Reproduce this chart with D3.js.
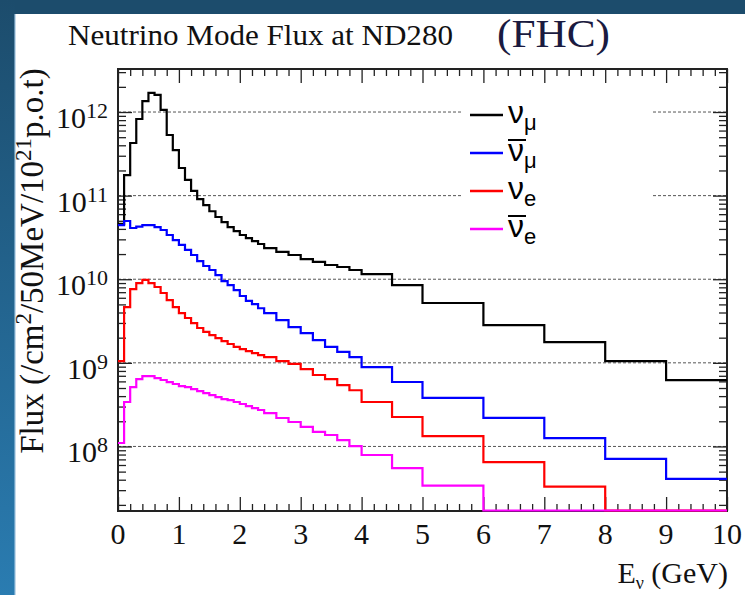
<!DOCTYPE html>
<html><head><meta charset="utf-8">
<script src="https://cdn.jsdelivr.net/npm/d3@7"></script>
<style>body{margin:0;background:#fff;} svg{display:block}</style>
</head><body>
<svg id="c" width="745" height="595"></svg>
<script>
// ---- data ----
const binEdges = [0,0.1,0.2,0.3,0.4,0.5,0.6,0.7,0.8,0.9,1.0,1.1,1.2,1.3,1.4,1.5,1.6,1.7,1.8,1.9,2.0,2.1,2.2,2.3,2.4,
  2.6,2.8,3.0,3.2,3.4,3.6,3.8,4.0,4.5,5,6,7,8,9,10];
const numu = [4.6e10,1.76e11,4.26e11,8.25e11,1.35e12,1.69e12,1.60e12,1.06e12,5.31e11,3.51e11,
  2.14e11,1.54e11,1.14e11,9.1e10,7.7e10,6.5e10,5.55e10,4.83e10,4.21e10,3.77e10,
  3.38e10,3.11e10,2.86e10,2.64e10,2.36e10,2.12e10,1.95e10,1.74e10,1.61e10,1.48e10,1.40e10,1.29e10,
  1.15e10,8.5e9,5.2e9,2.83e9,1.77e9,1.05e9,6.2e8];
const numubar = [4.45e10,4.97e10,4.10e10,4.27e10,4.45e10,4.45e10,4.21e10,3.88e10,3.38e10,2.94e10,
  2.57e10,2.24e10,1.95e10,1.65e10,1.44e10,1.29e10,1.12e10,9.5e9,8.5e9,7.4e9,
  6.3e9,5.5e9,5.05e9,4.5e9,3.94e9,3.25e9,2.68e9,2.27e9,1.87e9,1.55e9,1.35e9,1.17e9,
  8.9e8,5.9e8,3.8e8,2.2e8,1.26e8,7.1e7,4.1e7];
const nue = [1.05e9,4.65e9,7.63e9,9.0e9,9.8e9,9.0e9,8.07e9,6.84e9,5.64e9,4.65e9,
  3.94e9,3.44e9,2.99e9,2.61e9,2.34e9,2.15e9,1.98e9,1.82e9,1.68e9,1.55e9,
  1.46e9,1.38e9,1.31e9,1.24e9,1.17e9,1.05e9,9.7e8,8.4e8,7.15e8,6.4e8,5.4e8,4.7e8,
  3.4e8,2.25e8,1.33e8,6.5e7,3.3e7,0,0];
const nuebar = [1.10e8,3.40e8,5.13e8,6.40e8,6.95e8,6.95e8,6.58e8,6.23e8,5.89e8,5.58e8,
  5.28e8,5.13e8,4.86e8,4.60e8,4.35e8,4.12e8,3.90e8,3.69e8,3.59e8,3.40e8,
  3.22e8,3.04e8,2.88e8,2.73e8,2.51e8,2.19e8,1.96e8,1.71e8,1.49e8,1.37e8,1.19e8,1.01e8,
  7.9e7,5.5e7,3.4e7,0,0,0,0];
const seriesColors = ["#000000","#0000ff","#ff0000","#ff00ff"];
const legendBase = ["ν","ν","ν","ν"];
const legendSub = ["μ","μ","e","e"];
const legendBar = [false,true,false,true];
const xTickLabels = ["0","1","2","3","4","5","6","7","8","9","10"];
const yTickExps = [8,9,10,11,12];
const yDomain = [1.69e7, 3.27e12];
const xDomain = [0, 10];

// ---- layout ----
const W=745,H=595, L=118, R=727, T=69, B=511;
const svg = d3.select("#c");
const serif = "'Liberation Serif','Times New Roman',serif";
const sans = "'Liberation Sans',Arial,sans-serif";

// slide background
const defs = svg.append("defs");
const grad = defs.append("linearGradient").attr("id","band").attr("x1",0).attr("y1",0).attr("x2",0).attr("y2",1);
grad.append("stop").attr("offset","0%").attr("stop-color","#1c4c6c");
grad.append("stop").attr("offset","100%").attr("stop-color","#2a7cb1");
svg.append("rect").attr("width",W).attr("height",H).attr("fill","#fff");
svg.append("rect").attr("x",0).attr("y",0).attr("width",W).attr("height",14).attr("fill","#1c4c6c");
svg.append("rect").attr("x",0).attr("y",0).attr("width",15).attr("height",H).attr("fill","url(#band)");
svg.append("line").attr("x1",15).attr("x2",15).attr("y1",14).attr("y2",H).attr("stroke","#9cc2de").attr("stroke-width",1.2);

const x = d3.scaleLinear().domain(xDomain).range([L,R]);
const y = d3.scaleLog().domain(yDomain).range([B,T]);
const yc = v => y(Math.max(v, yDomain[0])) - (v < yDomain[0] ? 0.5 : 0);

defs.append("clipPath").attr("id","plot").append("rect").attr("x",L-2).attr("y",T-2).attr("width",R-L+4).attr("height",B-T+4);

// grid lines at decades
const gridG = svg.append("g");
yTickExps.forEach(e=>{
  gridG.append("line").attr("x1",L).attr("x2",R).attr("y1",y(Math.pow(10,e))).attr("y2",y(Math.pow(10,e)))
    .attr("stroke","#555").attr("stroke-width",1).attr("stroke-dasharray","3,2");
});

// legend box + entries
const lg = svg.append("g");
lg.append("rect").attr("x",461).attr("y",97).attr("width",190).attr("height",165).attr("fill","#fff");
const legTop = 115, legStep = 38;
legendBase.forEach((b,i)=>{
  const ly = legTop + i*legStep;
  lg.append("line").attr("x1",470).attr("x2",503).attr("y1",ly).attr("y2",ly).attr("stroke",seriesColors[i]).attr("stroke-width",2.5);
  const t = lg.append("text").attr("x",508).attr("y",ly+8).attr("font-family",sans).attr("font-size",32).attr("fill","#000");
  t.append("tspan").text(b);
  t.append("tspan").attr("font-size",22).attr("dy",7).text(legendSub[i]);
  if (legendBar[i]) lg.append("line").attr("x1",508).attr("x2",526).attr("y1",ly-13).attr("y2",ly-13).attr("stroke","#000").attr("stroke-width",2);
});

// axes ticks (inside)
const xMajor = d3.range(0,11,1), xMinor = d3.range(0,10.001,0.2).filter(v=>Math.abs(v-Math.round(v))>1e-6);
const yMajor = yTickExps.map(e=>Math.pow(10,e));
const yMinor = [];
for (let e=7;e<=12;e++) for (let m=2;m<=9;m++){ const v=m*Math.pow(10,e); if(v>=yDomain[0]&&v<=yDomain[1]) yMinor.push(v); }
function styleAxis(g){ g.select(".domain").remove(); g.selectAll("text").remove(); g.selectAll("line").attr("stroke","#222").attr("stroke-width",1.3); }
svg.append("g").attr("transform",`translate(0,${B})`).call(d3.axisBottom(x).tickValues(xMajor).tickSize(-14)).call(styleAxis);
svg.append("g").attr("transform",`translate(0,${B})`).call(d3.axisBottom(x).tickValues(xMinor).tickSize(-7)).call(styleAxis);
svg.append("g").attr("transform",`translate(0,${T})`).call(d3.axisTop(x).tickValues(xMajor).tickSize(-14)).call(styleAxis);
svg.append("g").attr("transform",`translate(0,${T})`).call(d3.axisTop(x).tickValues(xMinor).tickSize(-7)).call(styleAxis);
svg.append("g").attr("transform",`translate(${L},0)`).call(d3.axisLeft(y).tickValues(yMajor).tickSize(-14)).call(styleAxis);
svg.append("g").attr("transform",`translate(${L},0)`).call(d3.axisLeft(y).tickValues(yMinor).tickSize(-8)).call(styleAxis);
svg.append("g").attr("transform",`translate(${R},0)`).call(d3.axisRight(y).tickValues(yMajor).tickSize(-14)).call(styleAxis);
svg.append("g").attr("transform",`translate(${R},0)`).call(d3.axisRight(y).tickValues(yMinor).tickSize(-8)).call(styleAxis);
svg.append("rect").attr("x",L).attr("y",T).attr("width",R-L).attr("height",B-T).attr("fill","none").attr("stroke","#222").attr("stroke-width",2);

// histograms (drawn over the frame so empty bins show along the bottom)
const series = [numu, numubar, nue, nuebar];
const line = d3.line().x(d=>x(d[0])).y(d=>yc(d[1]));
const hg = svg.append("g").attr("clip-path","url(#plot)");
series.forEach((vals,si)=>{
  const pts = [];
  vals.forEach((v,i)=>{ pts.push([binEdges[i],v]); pts.push([binEdges[i+1],v]); });
  hg.append("path").attr("d",line(pts)).attr("fill","none").attr("stroke",seriesColors[si])
    .attr("stroke-width",2.2).attr("stroke-linejoin","miter");
});

// tick labels
xTickLabels.forEach((s,i)=>{
  svg.append("text").attr("x",x(xMajor[i])).attr("y",544).attr("text-anchor","middle")
    .attr("font-family",serif).attr("font-size",30).attr("fill","#111").text(s);
});
yTickExps.forEach(e=>{
  const t = svg.append("text").attr("x",108).attr("y",y(Math.pow(10,e))+16).attr("text-anchor","end")
    .attr("font-family",serif).attr("font-size",30).attr("fill","#111");
  t.append("tspan").text("10");
  t.append("tspan").attr("font-size",22).attr("dy",-10).text(String(e));
});

// axis titles
const yl = svg.append("text").attr("transform","translate(43,261) rotate(-90)").attr("text-anchor","middle")
  .attr("font-family",serif).attr("font-size",33).attr("fill","#111");
yl.append("tspan").text("Flux (/cm");
yl.append("tspan").attr("font-size",23).attr("dy",-12).text("2");
yl.append("tspan").attr("dy",12).text("/50MeV/10");
yl.append("tspan").attr("font-size",23).attr("dy",-12).text("21");
yl.append("tspan").attr("dy",12).text("p.o.t)");

const xl = svg.append("text").attr("x",728).attr("y",583).attr("text-anchor","end")
  .attr("font-family",serif).attr("font-size",30).attr("fill","#111");
xl.append("tspan").text("E");
xl.append("tspan").attr("font-size",18).attr("dy",6).text("ν");
xl.append("tspan").attr("dy",-6).text(" (GeV)");

// title
svg.append("text").attr("x",68).attr("y",45).attr("font-family",serif).attr("font-size",30).attr("fill","#111")
  .attr("textLength",385).attr("lengthAdjust","spacingAndGlyphs")
  .text("Neutrino Mode Flux at ND280");
svg.append("text").attr("x",497).attr("y",47).attr("font-family",serif).attr("font-size",40).attr("fill","#1a1a40")
  .attr("textLength",113).attr("lengthAdjust","spacingAndGlyphs")
  .text("(FHC)");
</script>
</body></html>
